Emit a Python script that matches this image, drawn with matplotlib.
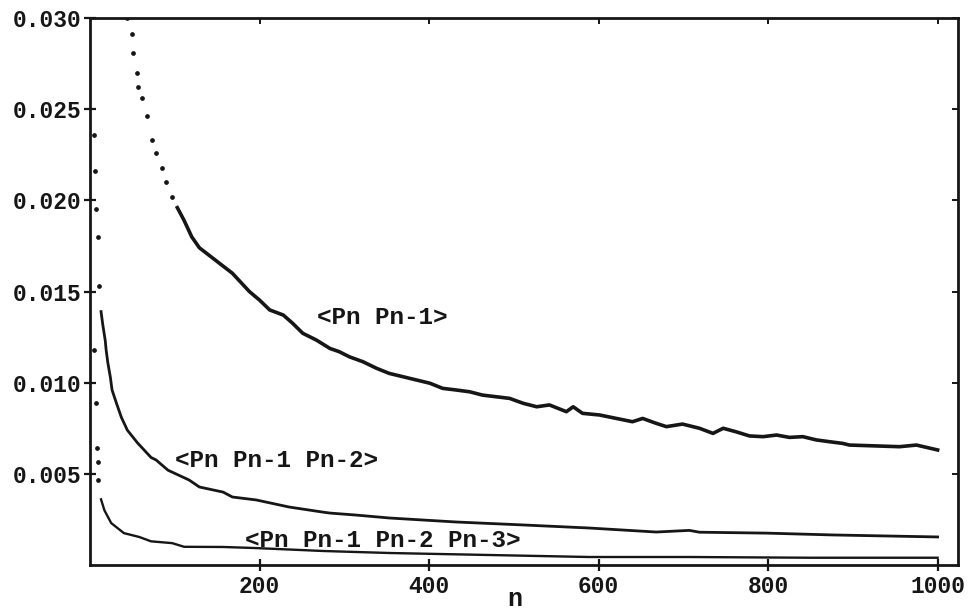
import matplotlib
matplotlib.use("Agg")
import matplotlib.pyplot as plt

# ---- data ----
n1 = [44, 49, 51, 55, 57, 61, 67, 73, 78, 85, 90, 97, 103, 111, 120, 129, 168, 188,
      200, 212, 228, 239, 251, 267, 283, 294, 306, 322, 338, 353, 369, 385, 401, 416,
      432, 448, 463, 479, 495, 511, 527, 542, 562, 570, 581, 601, 621, 640, 652, 668,
      680, 699, 719, 735, 747, 762, 778, 794, 810, 825, 841, 857, 873, 888, 896, 955,
      975, 1000]
v1 = [0.0300, 0.0291, 0.0281, 0.0270, 0.0262, 0.0256, 0.0246, 0.0233, 0.0226, 0.0218,
      0.0210, 0.0202, 0.0196, 0.0189, 0.0180, 0.0174, 0.0160, 0.0150,
      0.01453, 0.01399, 0.01371, 0.01326, 0.01271, 0.01234, 0.01188, 0.0117, 0.01142,
      0.01115, 0.01079, 0.01051, 0.01033, 0.01015, 0.00997, 0.00969, 0.0096, 0.0095,
      0.00932, 0.00923, 0.00914, 0.00887, 0.00868, 0.00878, 0.00841, 0.00868, 0.00832,
      0.00823, 0.00804, 0.00786, 0.00804, 0.00777, 0.00759, 0.00773, 0.0075, 0.00722,
      0.0075, 0.00731, 0.00708, 0.00704, 0.00713, 0.0070, 0.00704, 0.00686, 0.00676,
      0.00667, 0.00658, 0.00649, 0.00658, 0.00631]

n2 = [5, 6, 7, 9, 11, 13, 15, 18, 19, 21, 24, 26, 31, 37, 44, 56, 72, 78, 92, 117,
      129, 157, 168, 196, 208, 235, 275, 283, 314, 353, 432, 510, 589, 668, 707, 719,
      798, 876, 1000]
v2 = [0.0236, 0.0216, 0.0195, 0.0180, 0.0153, 0.0139, 0.0132, 0.0123, 0.0118, 0.0111,
      0.0103, 0.0096, 0.0089, 0.0081, 0.0074, 0.0067, 0.0059, 0.00576, 0.0052, 0.00466,
      0.00428, 0.0040, 0.00373, 0.00357, 0.00345, 0.00318, 0.0029, 0.00285, 0.00274,
      0.00258, 0.00236, 0.0022, 0.00203, 0.00181, 0.0019, 0.0018, 0.00175, 0.00165,
      0.00154]

n3 = [5, 7, 8, 9, 10, 13, 17, 25, 40, 58, 72, 97, 111, 157, 196, 275, 353, 471, 589,
      707, 850, 1000]
v3 = [0.0118, 0.0089, 0.0064, 0.00565, 0.00466, 0.0036, 0.0030, 0.0023, 0.00175,
      0.00154, 0.0013, 0.0012, 0.0010, 0.00099, 0.00093, 0.00077, 0.00066, 0.00055,
      0.00044, 0.00044, 0.0004, 0.0004]

labels = ["<Pn Pn-1>", "<Pn Pn-1 Pn-2>", "<Pn Pn-1 Pn-2 Pn-3>"]
label_pos = [(345, 0.01355), (220, 0.00576), (345, 0.00137)]

xticks = [200, 400, 600, 800, 1000]
yticks = [0.005, 0.010, 0.015, 0.020, 0.025, 0.030]
ytick_labels = ["0.005", "0.010", "0.015", "0.020", "0.025", "0.030"]

# ---- drawing ----
FONT = "Liberation Mono"
INK = "#161616"

fig = plt.figure(figsize=(9.7, 6.09), dpi=100)
ax = fig.add_axes([0.0928, 0.0722, 0.8948, 0.8982])

series = [(n1, v1, 100, 2.6), (n2, v2, 12, 2.0), (n3, v3, 12, 1.7)]
for n, v, head, lw in series:
    hn = [a for a in n if a <= head]
    hv = [b for a, b in zip(n, v) if a <= head]
    tn = [a for a in n if a >= head]
    tv = [b for a, b in zip(n, v) if a >= head]
    ax.plot(hn, hv, linestyle="none", marker="o", markersize=2.4, color=INK)
    ax.plot(tn, tv, color=INK, lw=lw, solid_joinstyle="round")

for txt, (x, y) in zip(labels, label_pos):
    ax.text(x, y, txt, fontfamily=FONT, fontweight="bold", fontsize=17.5,
            ha="center", va="center", color=INK)

ax.set_xlim(0, 1024)
ax.set_ylim(0, 0.030)

ax.set_xticks(xticks)
ax.set_xticklabels([str(t) for t in xticks])
ax.set_yticks(yticks)
ax.set_yticklabels(ytick_labels)

for lab in ax.get_xticklabels() + ax.get_yticklabels():
    lab.set_fontfamily(FONT)
    lab.set_fontweight("bold")
    lab.set_fontsize(16.5)
    lab.set_color(INK)

ax.tick_params(axis="both", direction="inout", length=9, width=1.6, color=INK)
ax.tick_params(axis="x", pad=3)
ax.tick_params(axis="y", pad=1.5)

for s in ax.spines.values():
    s.set_linewidth(2.0)
    s.set_color(INK)

top = ax.secondary_xaxis("top")
top.set_xticks(xticks)
top.set_xticklabels([])
top.tick_params(direction="in", length=4.5, width=1.4, color=INK)
top.spines["top"].set_visible(False)

right = ax.secondary_yaxis("right")
right.set_yticks(yticks)
right.set_yticklabels([])
right.tick_params(direction="in", length=4.5, width=1.4, color=INK)
right.spines["right"].set_visible(False)

ax.set_xlabel("n", fontfamily=FONT, fontweight="bold", fontsize=18, color=INK)
ax.xaxis.label.set_va("center")
ax.xaxis.set_label_coords(0.489, -0.062)

fig.savefig("out.png", dpi=100, facecolor="white")
